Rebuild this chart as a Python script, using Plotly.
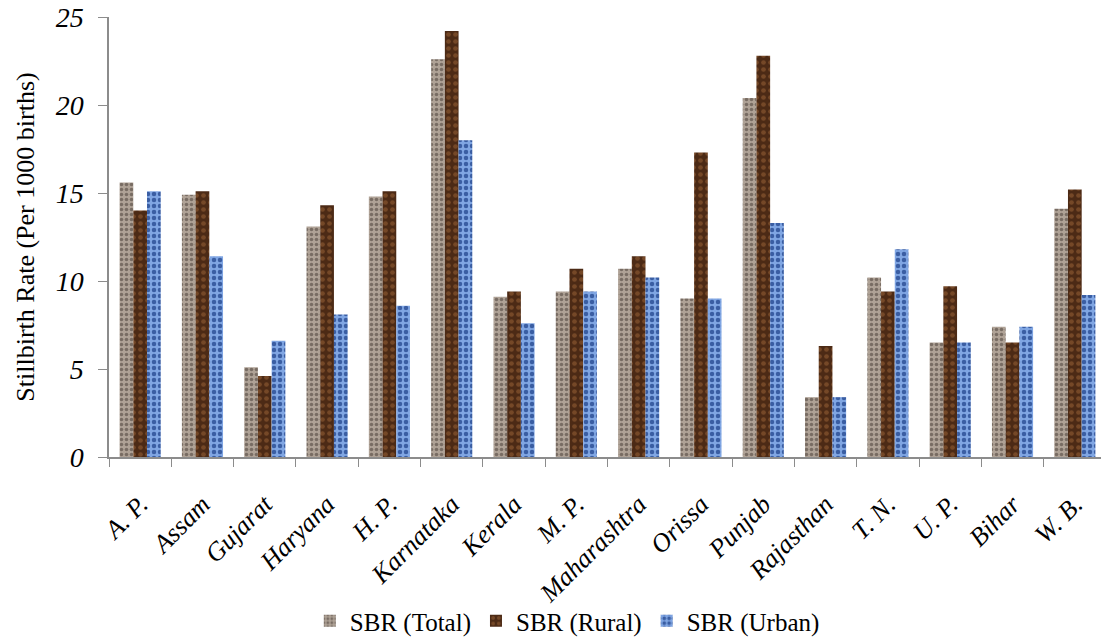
import plotly.graph_objects as go

states = ["A. P.", "Assam", "Gujarat", "Haryana", "H. P.", "Karnataka", "Kerala",
          "M. P.", "Maharashtra", "Orissa", "Punjab", "Rajasthan", "T. N.",
          "U. P.", "Bihar", "W. B."]
sbr_total = [15.6, 14.9, 5.1, 13.1, 14.8, 22.6, 9.1, 9.4, 10.7, 9.0, 20.4, 3.4, 10.2, 6.5, 7.4, 14.1]
sbr_rural = [14.0, 15.1, 4.6, 14.3, 15.1, 24.2, 9.4, 10.7, 11.4, 17.3, 22.8, 6.3, 9.4, 9.7, 6.5, 15.2]
sbr_urban = [15.1, 11.4, 6.6, 8.1, 8.6, 18.0, 7.6, 9.4, 10.2, 9.0, 13.3, 3.4, 11.8, 6.5, 7.4, 9.2]

# name, values, base colour, speckle colour, pattern shape, size, solidity
series = [
    ("SBR (Total)", sbr_total, "#afa296", "#786c63", ".", 5, 0.4),
    ("SBR (Rural)", sbr_rural, "#4c2a15", "#754827", ".", 7, 0.35),
    ("SBR (Urban)", sbr_urban, "#80a6e3", "#3a5ea3", ".", 6, 0.45),
]

fig = go.Figure()
for name, vals, base, fg, shape, size, solid in series:
    fig.add_trace(go.Bar(
        name=name, x=states, y=vals,
        marker=dict(color=base, line=dict(width=0),
                    pattern=dict(shape=shape, fgcolor=fg, bgcolor=base,
                                 size=size, solidity=solid, fillmode="replace")),
    ))

serif = "Liberation Serif"
fig.update_layout(
    width=1101, height=644,
    margin=dict(l=109, r=0, t=17, b=185),
    paper_bgcolor="white", plot_bgcolor="white",
    barmode="group", bargap=0.34, bargroupgap=0,
    font=dict(family=serif, color="black", size=24),
    showlegend=True,
    legend=dict(orientation="h", x=0.462, xanchor="center", y=-0.373, yanchor="middle",
                bgcolor="rgba(0,0,0,0)",
                font=dict(family=serif, size=25, color="black"), itemwidth=30,
                traceorder="normal"),
    xaxis=dict(range=[-0.5, 15.42], showline=True, linecolor="#8c8c8c", linewidth=1.5,
               ticks="outside", tickson="boundaries", ticklen=8, tickcolor="#8c8c8c",
               tickangle=-45, ticklabelstandoff=20, showgrid=False,
               tickfont=dict(family=serif, size=26, style="italic", color="black")),
    yaxis=dict(range=[0, 25], dtick=5, showline=True, linecolor="#8c8c8c", linewidth=1.5,
               ticks="outside", ticklen=9, tickcolor="#8c8c8c", showgrid=False, zeroline=False,
               ticklabelstandoff=9,
               tickfont=dict(family=serif, size=28, style="italic", color="black"),
               title=dict(text="Stillbirth Rate (Per 1000 births)", standoff=14,
                          font=dict(family=serif, size=26, color="black"))),
)

fig.write_html("out.html")
